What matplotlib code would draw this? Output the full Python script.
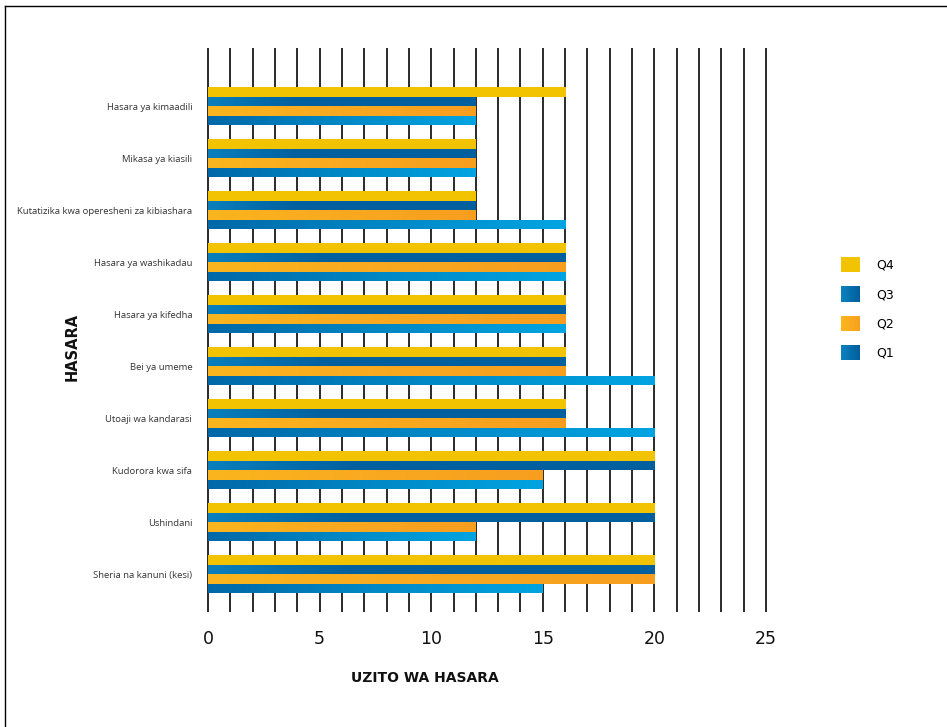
import numpy as np
import matplotlib
matplotlib.use("Agg")
import matplotlib.pyplot as plt
from matplotlib.colors import LinearSegmentedColormap, to_rgb
from matplotlib.patches import Rectangle, Patch
from matplotlib.legend_handler import HandlerBase
from matplotlib.ticker import MultipleLocator
from matplotlib.lines import Line2D

categories = [
    "Hasara ya kimaadili",
    "Mikasa ya kiasili",
    "Kutatizika kwa operesheni za kibiashara",
    "Hasara ya washikadau",
    "Hasara ya kifedha",
    "Bei ya umeme",
    "Utoaji wa kandarasi",
    "Kudorora kwa sifa",
    "Ushindani",
    "Sheria na kanuni (kesi)",
]
q4 = [16, 12, 12, 16, 16, 16, 16, 20, 20, 20]
q3 = [12, 12, 12, 16, 16, 16, 16, 20, 20, 20]
q2 = [12, 12, 12, 16, 16, 16, 16, 15, 12, 20]
q1 = [12, 12, 16, 16, 16, 20, 20, 15, 12, 15]
series_names = ["Q4", "Q3", "Q2", "Q1"]
x_ticks = [0, 5, 10, 15, 20, 25]

grad_colors = {
    "Q4": ["#F2C300", "#F2C300"],
    "Q3": ["#0A7FBD", "#005F9E", "#005F9E", "#005F9E"],
    "Q2": ["#FBB51D", "#F9A920", "#F79E1F"],
    "Q1": ["#0068A8", "#0088C6", "#00A4E2"],
}
legend_colors = {
    "Q4": ("#F2C300", "#F2C300"),
    "Q3": ("#0A82C0", "#005E9C"),
    "Q2": ("#FBB51C", "#F7A11F"),
    "Q1": ("#0A82C0", "#005E9C"),
}

fig = plt.figure(figsize=(9.47, 7.27), dpi=100)
W, H = 947, 727
ax = fig.add_axes([208 / W - 0.002, 1 - 612 / H, (766 - 208) / W + 0.004, (612 - 48) / H])

h = 0.183
ypos = np.arange(len(categories))
series = [q4, q3, q2, q1]
offsets = [-1.5 * h, -0.5 * h, 0.5 * h, 1.5 * h]
grad = np.linspace(0, 1, 256).reshape(1, -1)
for name, vals, off in zip(series_names, series, offsets):
    cmap = LinearSegmentedColormap.from_list(name, grad_colors[name])
    bars = ax.barh(ypos + off, vals, height=h, color="none", edgecolor="none", zorder=3)
    for b, v in zip(bars, vals):
        y0 = b.get_y()
        im = ax.imshow(grad, cmap=cmap, aspect="auto", extent=(0, v, y0 + h, y0),
                       zorder=3, interpolation="bilinear")
        im.set_clip_path(b)

ax.set_xlim(-0.08, 25.08)
ax.set_ylim(len(categories) - 1 + 0.73, -1.12)
ax.xaxis.set_minor_locator(MultipleLocator(1))
ax.set_xticks(x_ticks)
ax.grid(which="both", axis="x", color="#2a2a2a", linewidth=1.4, zorder=0)
ax.set_axisbelow(True)
for s in ax.spines.values():
    s.set_visible(False)
ax.tick_params(axis="both", which="both", length=0)
ax.tick_params(axis="x", pad=13, labelsize=12.5, labelcolor="#111111")
ax.set_yticks(ypos)
ax.set_yticklabels(categories, fontsize=6.8, family=["Open Sans", "DejaVu Sans"], color="#333333")
ax.tick_params(axis="y", pad=10)
ax.set_xlabel("UZITO WA HASARA", fontsize=10, fontweight="bold", color="#111111")
ax.xaxis.set_label_coords(0.39, -0.104)
ax.set_ylabel("HASARA", fontsize=10.5, fontweight="bold", color="#111111")
ax.yaxis.set_label_coords(-0.225, 0.47)


class GradHandler(HandlerBase):
    def __init__(self, c0, c1, n=20):
        super().__init__()
        self.c0 = np.array(to_rgb(c0))
        self.c1 = np.array(to_rgb(c1))
        self.n = n

    def create_artists(self, legend, orig_handle, xdescent, ydescent, width, height, fontsize, trans):
        arts = []
        for k in range(self.n):
            t = k / (self.n - 1)
            col = self.c0 * (1 - t) + self.c1 * t
            r = Rectangle((-xdescent + width * k / self.n, -ydescent), width / self.n * 1.08, height,
                          facecolor=col, edgecolor="none", transform=trans)
            arts.append(r)
        return arts


handles = [Patch(facecolor=legend_colors[n][0]) for n in series_names]
hmap = {hd: GradHandler(*legend_colors[n]) for hd, n in zip(handles, series_names)}
fig.legend(handles, series_names, handler_map=hmap, loc="upper left",
           bbox_to_anchor=(841 / W, 1 - 257 / H), frameon=False, fontsize=9,
           handlelength=1.5, handleheight=1.5, labelspacing=1.12, handletextpad=1.3,
           borderpad=0, borderaxespad=0)

fig.add_artist(Line2D([5 / W, 1], [1 - 6 / H, 1 - 6 / H], transform=fig.transFigure, color="black", linewidth=1))
fig.add_artist(Line2D([5 / W, 5 / W], [0, 1 - 6 / H], transform=fig.transFigure, color="black", linewidth=1))

fig.savefig("out.png", dpi=100)
